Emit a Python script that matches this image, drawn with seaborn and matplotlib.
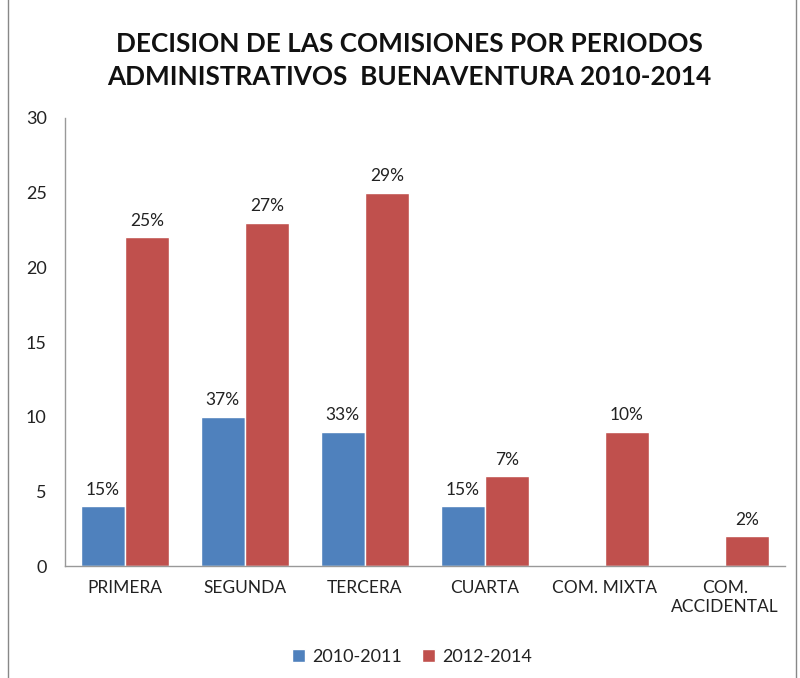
import matplotlib
matplotlib.use("Agg")
import matplotlib.pyplot as plt
import seaborn as sns
import pandas as pd
from matplotlib.patches import Rectangle

categories = ["PRIMERA", "SEGUNDA", "TERCERA", "CUARTA", "COM. MIXTA", "COM.\nACCIDENTAL"]
series_names = ["2010-2011", "2012-2014"]
values_2010 = [4, 10, 9, 4, 0, 0]
values_2012 = [22, 23, 25, 6, 9, 2]
labels_2010 = ["15%", "37%", "33%", "15%", "", ""]
labels_2012 = ["25%", "27%", "29%", "7%", "10%", "2%"]
colors = ["#4F81BD", "#C0504D"]

df = pd.DataFrame({
    "cat": categories * 2,
    "serie": [series_names[0]] * 6 + [series_names[1]] * 6,
    "val": values_2010 + values_2012,
})

sns.set_style("white")
plt.rcParams["font.family"] = ["Lato", "DejaVu Sans"]

fig = plt.figure(figsize=(8, 6.78), dpi=100)
ax = fig.add_axes([0.081, 0.165, 0.9, 0.661])
sns.barplot(data=df, x="cat", y="val", hue="serie", palette=colors,
            width=0.733, ax=ax, saturation=1, legend=True)

for cont, labs in zip(ax.containers, [labels_2010, labels_2012]):
    ax.bar_label(cont, labels=labs, padding=6, fontsize=12.5, color="#222222")

ax.set_ylim(0, 30)
ax.set_yticks(range(0, 31, 5))
ax.set_xlim(-0.5, 5.5)
ax.set_xlabel("")
ax.set_ylabel("")
for s in ["top", "right"]:
    ax.spines[s].set_visible(False)
for s in ["left", "bottom"]:
    ax.spines[s].set_color("#999999")
    ax.spines[s].set_linewidth(1)
ax.tick_params(axis="y", labelsize=13, colors="#222222", length=0, pad=13)
ax.tick_params(axis="x", labelsize=12.5, colors="#222222", length=0, pad=10)

fig.text(0.512, 0.868, "DECISION DE LAS COMISIONES POR PERIODOS\nADMINISTRATIVOS  BUENAVENTURA 2010-2014",
         ha="center", va="bottom", fontsize=18.8, fontweight="bold", color="#111111",
         linespacing=1.45)

ax.get_legend().remove()
leg = fig.legend([c.patches[0] for c in ax.containers], series_names,
                 loc="center", bbox_to_anchor=(0.515, 0.031), ncol=2, frameon=False,
                 fontsize=13, handlelength=0.7, handleheight=0.7, handletextpad=0.4,
                 columnspacing=1.1)
for t in leg.get_texts():
    t.set_color("#222222")

fig.patches.append(Rectangle((0.01, -0.01), 0.985, 1.02, transform=fig.transFigure,
                             fill=False, edgecolor="#888888", linewidth=1))

fig.savefig("out.png", dpi=100)
